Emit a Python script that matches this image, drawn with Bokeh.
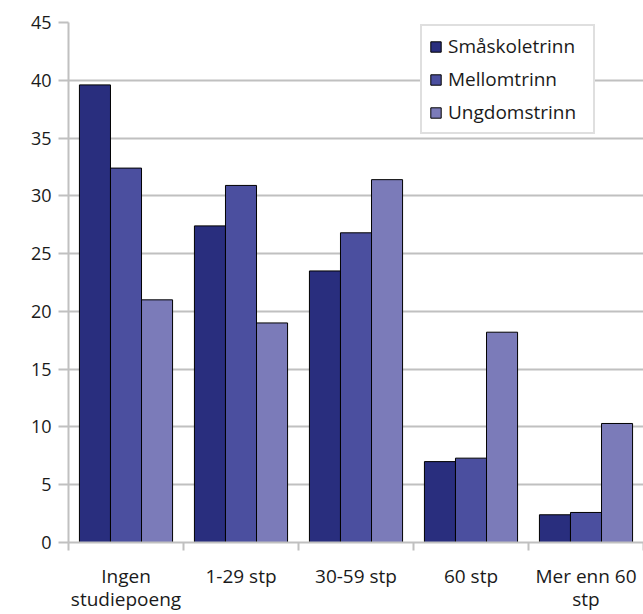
from bokeh.plotting import figure
from bokeh.models import ColumnDataSource, Range1d, FixedTicker, LinearAxis, Legend, LegendItem
from bokeh.embed import file_html
from bokeh.resources import INLINE

categories = ["Ingen\nstudiepoeng", "1-29 stp", "30-59 stp", "60 stp", "Mer enn 60\nstp"]
series_names = ["Småskoletrinn", "Mellomtrinn", "Ungdomstrinn"]
smaaskole = [39.6, 27.4, 23.5, 7.0, 2.4]
mellom = [32.4, 30.9, 26.8, 7.3, 2.6]
ungdom = [21.0, 19.0, 31.4, 18.2, 10.3]
colors = ["#292e7e", "#4b4f9f", "#7b7bb9"]
y_ticks = [0, 5, 10, 15, 20, 25, 30, 35, 40, 45]

FONT = "Open Sans"
GRID = "#c0c0c0"
TXT = "#1a1a1a"

p = figure(width=643, height=614, output_backend="svg", toolbar_location=None,
           x_range=Range1d(0, len(categories)), y_range=Range1d(0, 45),
           min_border_left=68, min_border_right=0, min_border_top=22, min_border_bottom=72,
           x_axis_location=None, y_axis_location=None)
p.outline_line_color = None
p.background_fill_color = "white"
p.border_fill_color = "white"

bw = 0.27
offsets = [-bw, 0.0, bw]
renderers = []
for vals, col, off in zip([smaaskole, mellom, ungdom], colors, offsets):
    src = ColumnDataSource(dict(x=[i + 0.5 + off for i in range(len(categories))], top=vals))
    r = p.vbar(x="x", top="top", width=bw, bottom=0, source=src, fill_color=col,
               line_color="black", line_width=1)
    renderers.append(r)

# y axis
yax = LinearAxis(ticker=FixedTicker(ticks=y_ticks))
yax.axis_line_color = GRID
yax.axis_line_width = 2
yax.major_tick_line_color = GRID
yax.major_tick_line_width = 2
yax.major_tick_out = 10
yax.major_tick_in = 0
yax.minor_tick_line_color = None
yax.major_label_text_font = FONT
yax.major_label_text_font_size = "18px"
yax.major_label_text_color = TXT
yax.major_label_standoff = 7
p.add_layout(yax, "left")

# x axis: labels at category centres, boundary ticks as minor ticks
xax = LinearAxis(ticker=FixedTicker(ticks=[i + 0.5 for i in range(len(categories))],
                                    minor_ticks=list(range(len(categories) + 1))))
xax.axis_line_color = GRID
xax.axis_line_width = 2
xax.major_tick_line_color = None
xax.major_tick_out = 8
xax.major_tick_in = 0
xax.minor_tick_line_color = GRID
xax.minor_tick_line_width = 2
xax.minor_tick_out = 8
xax.minor_tick_in = 0
xax.major_label_overrides = {i + 0.5: c for i, c in enumerate(categories)}
xax.major_label_text_font = FONT
xax.major_label_text_font_size = "19px"
xax.major_label_text_color = TXT
xax.major_label_text_line_height = 0.9
xax.major_label_standoff = 12
p.add_layout(xax, "below")

p.xgrid.grid_line_color = None
p.ygrid.ticker = FixedTicker(ticks=y_ticks)
p.ygrid.grid_line_color = GRID
p.ygrid.grid_line_width = 2

legend = Legend(items=[LegendItem(label=n, renderers=[r]) for n, r in zip(series_names, renderers)],
                location=(352, 408))
legend.label_text_font = FONT
legend.label_text_font_size = "19px"
legend.label_text_color = TXT
legend.glyph_width = 13
legend.glyph_height = 13
legend.label_height = 24
legend.label_width = 138
legend.spacing = 7
legend.padding = 7
legend.margin = 0
legend.label_standoff = 6
legend.border_line_color = GRID
legend.border_line_width = 2
legend.background_fill_color = "white"
legend.background_fill_alpha = 1
p.add_layout(legend, "center")

open("out.html", "w").write(file_html(p, INLINE))
